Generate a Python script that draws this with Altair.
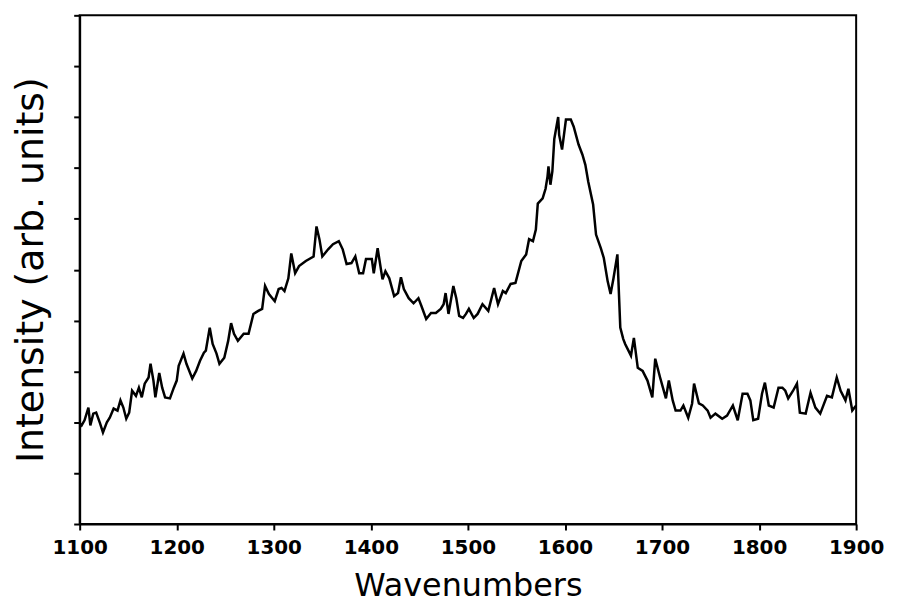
import altair as alt
import pandas as pd

# Raman spectrum (wavenumber in cm^-1, intensity in arb. units 0..10)
wavenumber = [
    1100, 1102, 1105, 1109, 1111, 1114, 1117, 1121, 1124, 1128,
    1131, 1135, 1139, 1142, 1145, 1148, 1151, 1154, 1158, 1161,
    1164, 1167, 1171, 1173, 1176, 1178, 1182, 1185, 1188, 1193,
    1197, 1200, 1202, 1207, 1210, 1216, 1220, 1224, 1228, 1230,
    1234, 1237, 1241, 1244, 1249, 1253, 1256, 1259, 1263, 1269,
    1274, 1279, 1284, 1288, 1291, 1295, 1301,
    1305, 1308, 1311, 1315, 1318, 1322, 1326, 1333, 1341, 1344,
    1347, 1350, 1356, 1361, 1367, 1371, 1375, 1380, 1384, 1388,
    1392, 1395, 1401, 1403, 1407, 1412, 1415, 1419, 1424, 1428,
    1431, 1434, 1439, 1444, 1449, 1452, 1457, 1462, 1467, 1472,
    1475, 1477, 1480, 1485, 1488, 1491, 1495, 1498,
    1501, 1506, 1510, 1515, 1521, 1527, 1531, 1536, 1539, 1544,
    1549, 1555, 1560, 1563, 1567, 1570, 1572, 1577, 1580, 1582,
    1583, 1585, 1587, 1589, 1593, 1594, 1597, 1601, 1606, 1609,
    1614, 1618, 1621, 1624, 1629, 1632, 1637, 1640, 1644, 1647,
    1650, 1654, 1657, 1660,
    1662, 1668, 1671, 1675, 1680, 1685, 1690, 1693, 1698, 1704,
    1707, 1711, 1714, 1719, 1722, 1727, 1731, 1733, 1738, 1742,
    1747, 1750, 1755, 1762, 1767, 1773, 1778, 1783, 1788, 1791,
    1794, 1799, 1803, 1806, 1810, 1815, 1820, 1824, 1827, 1830,
    1835, 1839, 1842, 1848, 1853, 1858, 1863, 1870, 1875, 1880,
    1884, 1889, 1892, 1896, 1900,
]

intensity = [
    1.98, 1.94, 2.04, 2.29, 1.94, 2.17, 2.19, 1.98, 1.80, 2.00,
    2.09, 2.27, 2.23, 2.43, 2.29, 2.07, 2.19, 2.62, 2.52, 2.68,
    2.49, 2.76, 2.88, 3.15, 2.82, 2.49, 2.97, 2.68, 2.49, 2.47,
    2.68, 2.82, 3.11, 3.35, 3.15, 2.86, 3.01, 3.21, 3.37, 3.41,
    3.86, 3.54, 3.35, 3.15, 3.27, 3.60, 3.95, 3.74, 3.60, 3.74,
    3.74, 4.13, 4.19, 4.23, 4.68, 4.52, 4.38,
    4.62, 4.64, 4.58, 4.83, 5.32, 4.93, 5.07, 5.17, 5.26, 5.85,
    5.60, 5.26, 5.40, 5.50, 5.56, 5.40, 5.11, 5.13, 5.26, 4.93,
    4.93, 5.21, 5.21, 4.93, 5.42, 4.81, 4.97, 4.83, 4.48, 4.54,
    4.85, 4.62, 4.44, 4.34, 4.44, 4.29, 4.03, 4.15, 4.15, 4.23,
    4.32, 4.54, 4.13, 4.68, 4.44, 4.09, 4.05, 4.13,
    4.23, 4.05, 4.13, 4.32, 4.19, 4.64, 4.32, 4.58, 4.54, 4.72,
    4.74, 5.17, 5.30, 5.60, 5.56, 5.79, 6.30, 6.40, 6.59, 6.83,
    7.03, 6.67, 6.93, 7.57, 8.00, 7.65, 7.36, 7.95, 7.95, 7.81,
    7.46, 7.26, 7.06, 6.73, 6.28, 5.69, 5.42, 5.23, 4.77, 4.52,
    4.83, 5.30, 3.86, 3.64,
    3.54, 3.31, 3.66, 3.07, 3.01, 2.82, 2.49, 3.25, 2.88, 2.47,
    2.82, 2.43, 2.23, 2.23, 2.33, 2.09, 2.37, 2.76, 2.37, 2.33,
    2.23, 2.09, 2.17, 2.07, 2.13, 2.33, 2.04, 2.56, 2.56, 2.43,
    2.04, 2.07, 2.56, 2.78, 2.33, 2.29, 2.68, 2.68, 2.62, 2.47,
    2.62, 2.76, 2.19, 2.17, 2.58, 2.29, 2.17, 2.52, 2.49, 2.88,
    2.62, 2.43, 2.66, 2.23, 2.33,
]

x_ticks = [1100, 1200, 1300, 1400, 1500, 1600, 1700, 1800, 1900]
y_ticks = [0, 1, 2, 3, 4, 5, 6, 7, 8, 9, 10]

df = pd.DataFrame({"wavenumber": wavenumber, "intensity": intensity})

FONT = "DejaVu Sans"

chart = alt.Chart(df).mark_line(color="black", strokeWidth=2.5).encode(
    x=alt.X(
        "wavenumber:Q",
        scale=alt.Scale(domain=[1100, 1900], nice=False, zero=False),
        axis=alt.Axis(
            title="Wavenumbers", values=x_ticks, format="d", grid=False,
            domainColor="black", domainWidth=2, tickColor="black", tickWidth=2,
            tickSize=6, labelFlush=False, labelOverlap=False,
            labelFont=FONT, labelFontSize=20, labelFontWeight="bold",
            labelColor="black", labelPadding=8,
            titleFont=FONT, titleFontSize=32, titleFontWeight="normal",
            titleColor="black", titlePadding=13,
        ),
    ),
    y=alt.Y(
        "intensity:Q",
        scale=alt.Scale(domain=[0, 10], nice=False, zero=False),
        axis=alt.Axis(
            title="Intensity (arb. units)", values=y_ticks, labels=False, grid=False,
            domainColor="black", domainWidth=2, tickColor="black", tickWidth=2,
            tickSize=6,
            titleFont=FONT, titleFontSize=38, titleFontWeight="normal",
            titleColor="black", titlePadding=22,
        ),
    ),
).properties(
    width=780, height=511, background="white"
).configure_view(
    stroke="black", strokeWidth=2
)

chart.save("out.html", embed_options={"renderer": "svg", "actions": False})
